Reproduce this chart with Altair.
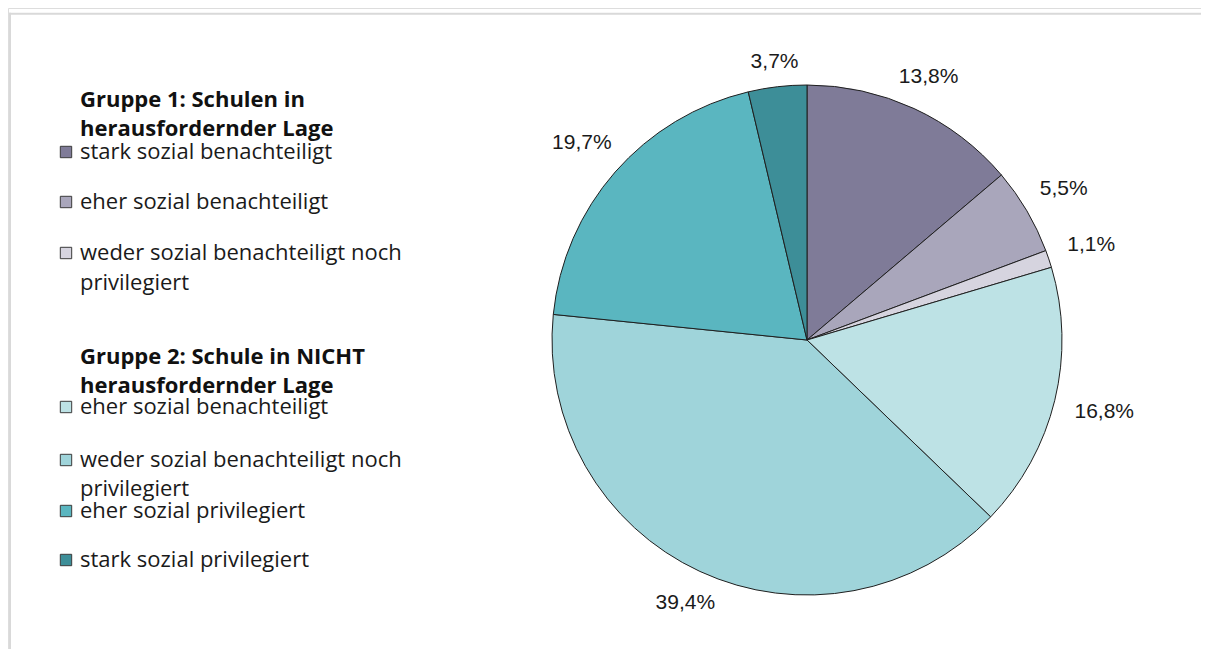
import math
import altair as alt
import pandas as pd

# ---------------- data ----------------
keys = ["g1_stark_ben", "g1_eher_ben", "g1_weder", "g2_eher_ben", "g2_weder", "g2_eher_priv", "g2_stark_priv"]
values = [13.8, 5.5, 1.1, 16.8, 39.4, 19.7, 3.7]
value_labels = ["13,8%", "5,5%", "1,1%", "16,8%", "39,4%", "19,7%", "3,7%"]
colors = ["#7f7b98", "#a9a6bb", "#d6d4df", "#bde2e5", "#9fd4da", "#5ab6c0", "#3d8e98"]

group1_title = ["Gruppe 1: Schulen in", "herausfordernder Lage"]
group2_title = ["Gruppe 2: Schule in NICHT", "herausfordernder Lage"]
legend_labels = [
    ["stark sozial benachteiligt"],
    ["eher sozial benachteiligt"],
    ["weder sozial benachteiligt noch", "privilegiert"],
    ["eher sozial benachteiligt"],
    ["weder sozial benachteiligt noch", "privilegiert"],
    ["eher sozial privilegiert"],
    ["stark sozial privilegiert"],
]

# ---------------- layout ----------------
W, H = 1193, 641
CX, CY, R = 799, 332, 255
LABEL_FONT = 21
FONT = "Liberation Sans"
LEG_FONT = "Open Sans"

# pie label angle (slice middle) and radius (outside-end style)
total = sum(values)
cum = 0.0
lab_r, lab_theta = [], []
for v, t in zip(values, value_labels):
    mid = (cum + v / 2) / total * 2 * math.pi
    cum += v
    w = sum(0.278 if c in ",." else (0.889 if c == "%" else 0.556) for c in t) * LABEL_FONT
    lab_theta.append(mid)
    lab_r.append(R + 22 + abs(math.sin(mid)) * w / 2)

pie_df = pd.DataFrame({
    "key": keys, "value": values, "label": value_labels,
    "order": list(range(len(keys))), "lab_r": lab_r, "lab_theta": lab_theta,
})

# legend layout (chart coords)
head_y = [[92, 121], [349, 378]]
item_y = [[144], [194], [245, 275], [399], [452, 481], [503], [552]]
TEXT_X = 72
SQ_X = 58

legend_rows = []
for (lines, ys) in zip([group1_title, group2_title], head_y):
    for t, y in zip(lines, ys):
        legend_rows.append({"text": t, "y": y, "bold": "bold"})
for lines, ys in zip(legend_labels, item_y):
    for t, y in zip(lines, ys):
        legend_rows.append({"text": t, "y": y, "bold": "normal"})
legend_text_df = pd.DataFrame(legend_rows)
legend_text_df["x"] = TEXT_X

sq_df = pd.DataFrame({"key": keys, "y": [ys[0] for ys in item_y]})
sq_df["x"] = SQ_X

color_scale = alt.Scale(domain=keys, range=colors)

# ---------------- marks ----------------
arcs = alt.Chart(pie_df).mark_arc(outerRadius=R, stroke="#1f1f1f", strokeWidth=1).encode(
    theta=alt.Theta("value:Q", stack=True),
    order=alt.Order("order:Q"),
    color=alt.Color("key:N", scale=color_scale, legend=None),
    x=alt.value(CX), y=alt.value(CY),
)

labels = alt.Chart(pie_df).mark_text(font=FONT, fontSize=LABEL_FONT, color="#1a1a1a",
                                     align="center", baseline="middle").encode(
    theta=alt.Theta("lab_theta:Q", scale=None, stack=None),
    radius=alt.Radius("lab_r:Q", scale=None),
    text="label:N",
    x=alt.value(CX), y=alt.value(CY),
)

legend_text_normal = alt.Chart(legend_text_df[legend_text_df.bold == "normal"]).mark_text(
    font=LEG_FONT, fontSize=22, color="#1a1a1a", align="left", baseline="middle"
).encode(
    x=alt.X("x:Q", scale=None), y=alt.Y("y:Q", scale=None), text="text:N"
)
legend_text_bold = alt.Chart(legend_text_df[legend_text_df.bold == "bold"]).mark_text(
    font=LEG_FONT, fontSize=22, fontWeight="bold", color="#111111", align="left", baseline="middle"
).encode(
    x=alt.X("x:Q", scale=None), y=alt.Y("y:Q", scale=None), text="text:N"
)

squares = alt.Chart(sq_df).mark_square(size=130, stroke="#3a3a3a", strokeWidth=1, opacity=1).encode(
    x=alt.X("x:Q", scale=None), y=alt.Y("y:Q", scale=None),
    fill=alt.Fill("key:N", scale=color_scale, legend=None),
)

frame_df = pd.DataFrame({"side": ["top", "left"]})
frame_top = alt.Chart(frame_df.iloc[[0]]).mark_rule(color="#d9d9d9", strokeWidth=2).encode(
    x=alt.value(1), x2=alt.value(W), y=alt.value(5.7)
)
frame_left = alt.Chart(frame_df.iloc[[1]]).mark_rule(color="#d9d9d9", strokeWidth=2).encode(
    x=alt.value(2), y=alt.value(4.7), y2=alt.value(H)
)

chart = alt.layer(
    frame_top, frame_left, arcs, labels, squares, legend_text_bold, legend_text_normal
).properties(
    width=W, height=H, autosize=alt.AutoSizeParams(type="none"), padding=0
).configure_view(stroke=None).configure(background="white")

chart.save("out.html", embed_options={"renderer": "svg", "actions": False})
